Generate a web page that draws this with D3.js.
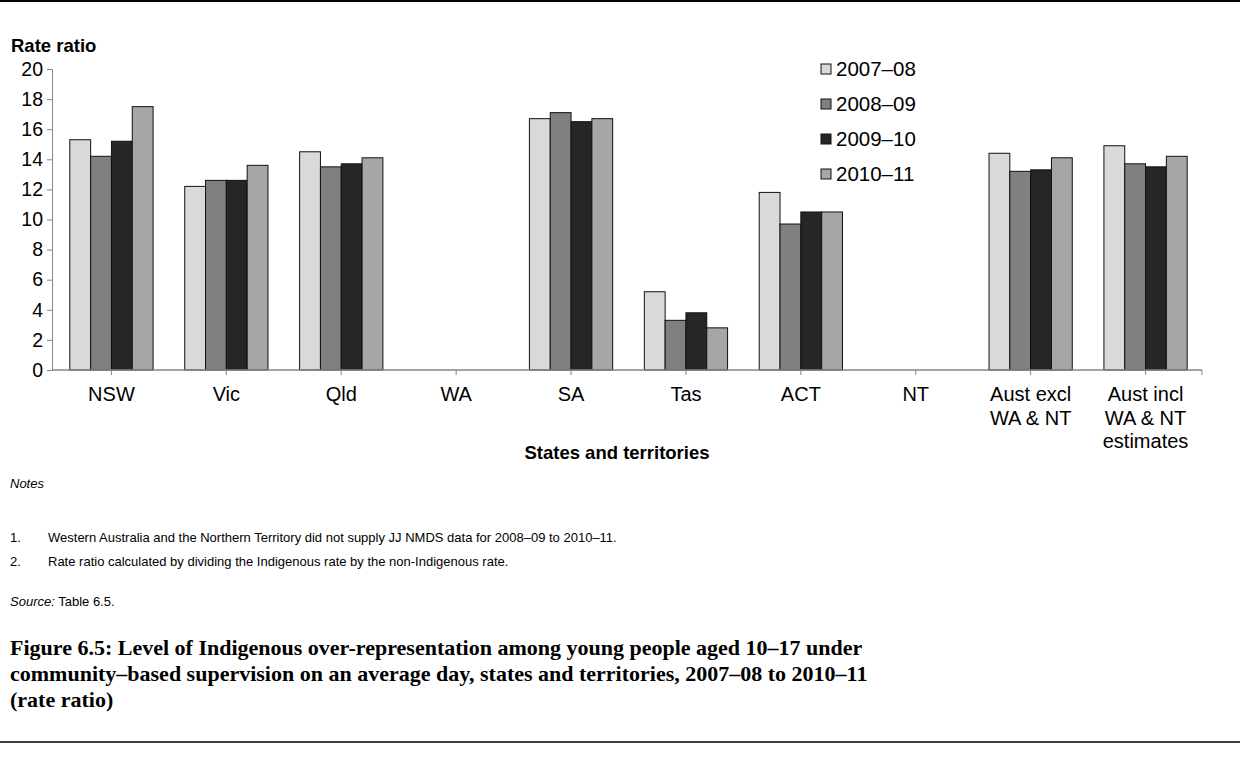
<!DOCTYPE html>
<html>
<head>
<meta charset="utf-8">
<script src="https://cdn.jsdelivr.net/npm/d3@7"></script>
<style>
  html, body { margin: 0; padding: 0; background: #fff; }
  svg { display: block; }
  .sans { font-family: "Liberation Sans", Arial, sans-serif; fill: #000; }
  .serif { font-family: "Liberation Serif", "Times New Roman", serif; fill: #000; }
</style>
</head>
<body>
<svg id="chart" width="1240" height="758"></svg>
<script>
// Categories along the x axis (multi-line labels split on "|")
const categories = ["NSW", "Vic", "Qld", "WA", "SA", "Tas", "ACT", "NT",
  "Aust excl|WA & NT", "Aust incl|WA & NT|estimates"];

// Financial years shown as series
const seriesNames = ["2007–08", "2008–09", "2009–10", "2010–11"];

// Rate ratios per series (WA and NT did not supply data)
const values0708 = [15.3, 12.2, 14.5, null, 16.7, 5.2, 11.8, null, 14.4, 14.9];
const values0809 = [14.2, 12.6, 13.5, null, 17.1, 3.3, 9.7, null, 13.2, 13.7];
const values0910 = [15.2, 12.6, 13.7, null, 16.5, 3.8, 10.5, null, 13.3, 13.5];
const values1011 = [17.5, 13.6, 14.1, null, 16.7, 2.8, 10.5, null, 14.1, 14.2];

const yTicks = [0, 2, 4, 6, 8, 10, 12, 14, 16, 18, 20];

const seriesValues = [values0708, values0809, values0910, values1011];
const seriesColors = ["#d9d9d9", "#808080", "#262626", "#a6a6a6"];

const notes = [
  "Western Australia and the Northern Territory did not supply JJ NMDS data for 2008–09 to 2010–11.",
  "Rate ratio calculated by dividing the Indigenous rate by the non-Indigenous rate."
];
const titleLines = [
  "Figure 6.5: Level of Indigenous over-representation among young people aged 10–17 under",
  "community–based supervision on an average day, states and territories, 2007–08 to 2010–11",
  "(rate ratio)"
];

const svg = d3.select("#chart");
const axisColor = "#868686";

// Page rules above and below the figure
svg.append("line").attr("x1", 0).attr("x2", 1240).attr("y1", 1).attr("y2", 1)
  .attr("stroke", "#000").attr("stroke-width", 2);
svg.append("line").attr("x1", 0).attr("x2", 1240).attr("y1", 742).attr("y2", 742)
  .attr("stroke", "#000").attr("stroke-width", 1.5);

// Scales
const plotLeft = 52, plotRight = 1202, plotTop = 69, plotBottom = 370;
const x0 = d3.scaleBand().domain(categories).range([plotLeft + 2, plotRight + 1]).padding(0);
const x1 = d3.scaleBand().domain(seriesNames).range([0, x0.bandwidth()])
  .paddingInner(0).paddingOuter(0.76);
const y = d3.scaleLinear().domain([0, 20]).range([plotBottom, plotTop]);

// Bars
const rows = [];
categories.forEach((c, i) => {
  seriesNames.forEach((s, j) => {
    const v = seriesValues[j][i];
    if (v != null) rows.push({ cat: c, series: s, value: v, color: seriesColors[j] });
  });
});
svg.append("g").selectAll("rect").data(rows).join("rect")
  .attr("x", d => x0(d.cat) + x1(d.series))
  .attr("y", d => y(d.value))
  .attr("width", x1.bandwidth())
  .attr("height", d => y(0) - y(d.value))
  .attr("fill", d => d.color)
  .attr("stroke", "#111")
  .attr("stroke-width", 1);

// Y axis
const yAxis = svg.append("g").attr("transform", `translate(${plotLeft},0)`)
  .call(d3.axisLeft(y).tickValues(yTicks).tickSize(5).tickPadding(4).tickFormat(d3.format("d")));
yAxis.select(".domain").attr("stroke", axisColor);
yAxis.selectAll(".tick line").attr("stroke", axisColor);
yAxis.selectAll(".tick text").attr("class", "sans").style("font-size", "19.5px").attr("fill", "#000");

// X axis: ticks at category centres plus one at the right end
const xAxis = svg.append("g").attr("transform", `translate(0,${plotBottom})`);
xAxis.append("line").attr("x1", plotLeft).attr("x2", plotRight)
  .attr("stroke", axisColor).attr("stroke-width", 1.5);
const tickXs = categories.map(c => x0(c) + x0.bandwidth() / 2).concat([plotRight]);
xAxis.selectAll("line.tk").data(tickXs).join("line").attr("class", "tk")
  .attr("x1", d => d).attr("x2", d => d).attr("y1", 0).attr("y2", 5)
  .attr("stroke", axisColor);

const xl = svg.append("g");
categories.forEach(c => {
  const lines = c.split("|");
  const t = xl.append("text").attr("class", "sans")
    .attr("text-anchor", "middle").style("font-size", "20px");
  lines.forEach((ln, k) => {
    t.append("tspan").attr("x", x0(c) + x0.bandwidth() / 2)
      .attr("y", 401 + k * 23.5).text(ln);
  });
});

// Axis titles
svg.append("text").attr("class", "sans").attr("x", 11).attr("y", 52)
  .style("font-size", "18.5px").style("font-weight", "bold").text("Rate ratio");
svg.append("text").attr("class", "sans").attr("x", 617).attr("y", 459)
  .attr("text-anchor", "middle").style("font-size", "18.5px").style("font-weight", "bold")
  .text("States and territories");

// Legend
const legend = svg.append("g").attr("transform", "translate(821,69)");
seriesNames.forEach((s, j) => {
  const g = legend.append("g").attr("transform", `translate(0,${j * 35})`);
  g.append("rect").attr("x", 0).attr("y", -5).attr("width", 10).attr("height", 10)
    .attr("fill", seriesColors[j]).attr("stroke", "#111");
  g.append("text").attr("class", "sans").attr("x", 15).attr("y", 7)
    .style("font-size", "20.5px").text(s);
});

// Notes and source
svg.append("text").attr("class", "sans").attr("x", 10).attr("y", 488)
  .style("font-size", "13px").style("font-style", "italic").text("Notes");
notes.forEach((n, i) => {
  const yy = 542 + i * 24;
  svg.append("text").attr("class", "sans").attr("x", 10).attr("y", yy)
    .style("font-size", "13px").text(`${i + 1}.`);
  svg.append("text").attr("class", "sans").attr("x", 48).attr("y", yy)
    .style("font-size", "13px").text(n);
});
const src = svg.append("text").attr("class", "sans").attr("x", 10).attr("y", 606)
  .style("font-size", "13px");
src.append("tspan").style("font-style", "italic").text("Source:");
src.append("tspan").text(" Table 6.5.");

// Figure title
titleLines.forEach((t, i) => {
  svg.append("text").attr("class", "serif").attr("x", 10).attr("y", 655 + i * 26)
    .style("font-size", "22px").style("font-weight", "bold").text(t);
});
</script>
</body>
</html>
